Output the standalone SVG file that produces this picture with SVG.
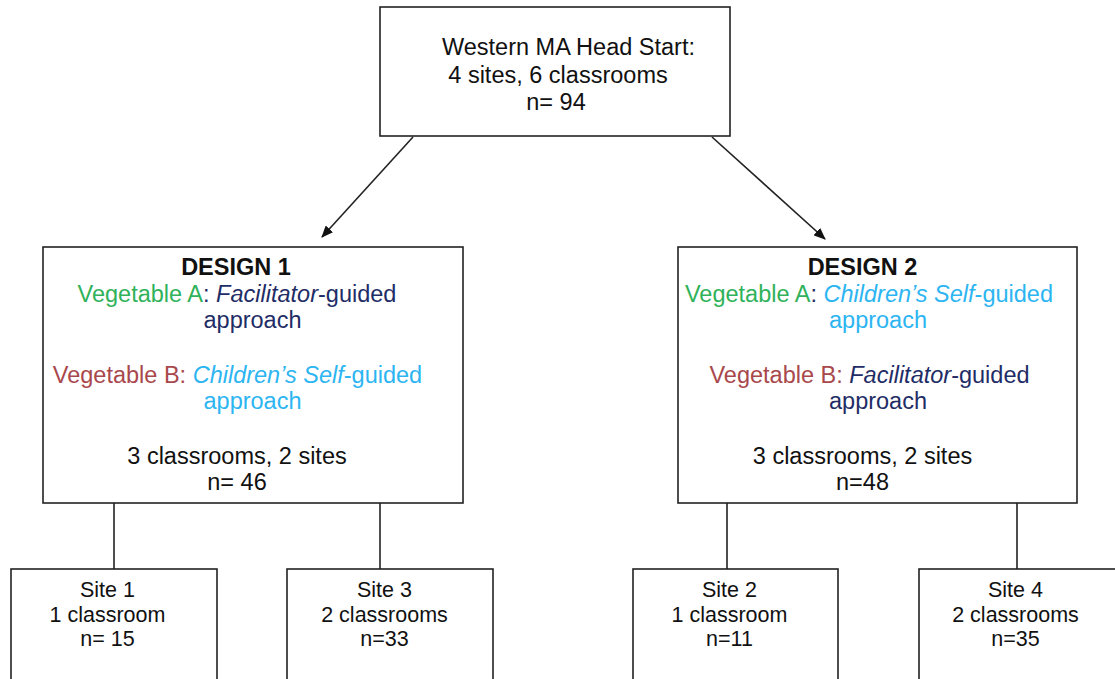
<svg xmlns="http://www.w3.org/2000/svg" width="1115" height="679" viewBox="0 0 1115 679">
<defs>
<marker id="arr" markerWidth="12" markerHeight="10" refX="11" refY="5" orient="auto" markerUnits="userSpaceOnUse">
<path d="M0,0 L12,5 L0,10 Z" fill="#111"/>
</marker>
<style>
.box{fill:#fff;stroke:#222;stroke-width:1.6}
.t{font-family:"Liberation Sans",Arial,sans-serif;font-size:23.5px;fill:#111;text-anchor:middle}
.s{font-family:"Liberation Sans",Arial,sans-serif;font-size:21.5px;fill:#111;text-anchor:middle}
.b{font-weight:bold}
.g{fill:#2fb25a}
.r{fill:#a9484c}
.n{fill:#1f2d66}
.c{fill:#2db5f2}
.i{font-style:italic}
.ln{stroke:#222;stroke-width:1.6;fill:none}
</style>
</defs>
<g id="connectors">
<line class="ln" x1="413" y1="137" x2="322" y2="237" marker-end="url(#arr)"/>
<line class="ln" x1="712" y1="137" x2="825" y2="239" marker-end="url(#arr)"/>
<line class="ln" x1="114" y1="503" x2="114" y2="569"/>
<line class="ln" x1="380" y1="503" x2="380" y2="569"/>
<line class="ln" x1="727" y1="503" x2="727" y2="569"/>
<line class="ln" x1="1017" y1="503" x2="1017" y2="569"/>
</g>
<g id="top">
<rect class="box" x="380" y="7" width="350" height="129"/>
<text class="t" x="568.5" y="55">Western MA Head Start:</text>
<text class="t" x="558" y="83">4 sites, 6 classrooms</text>
<text class="t" x="556" y="110">n= 94</text>
</g>
<g id="design1">
<rect class="box" x="43" y="247" width="420" height="256"/>
<text class="t b" x="236" y="275">DESIGN 1</text>
<text class="t" x="237" y="302"><tspan class="g">Vegetable A</tspan><tspan class="n">: </tspan><tspan class="n i">Facilitator</tspan><tspan class="n">-guided</tspan></text>
<text class="t n" x="252.5" y="328">approach</text>
<text class="t" x="237.5" y="383"><tspan class="r">Vegetable B: </tspan><tspan class="c i">Children’s Self</tspan><tspan class="c">-guided</tspan></text>
<text class="t c" x="252.5" y="409">approach</text>
<text class="t" x="237" y="464">3 classrooms, 2 sites</text>
<text class="t" x="237" y="490">n= 46</text>
</g>
<g id="design2">
<rect class="box" x="678" y="247" width="399" height="256"/>
<text class="t b" x="862.5" y="275">DESIGN 2</text>
<text class="t" x="869" y="302"><tspan class="g">Vegetable A</tspan><tspan class="n">: </tspan><tspan class="c i">Children’s Self</tspan><tspan class="c">-guided</tspan></text>
<text class="t c" x="878" y="328">approach</text>
<text class="t" x="869.5" y="383"><tspan class="r">Vegetable B: </tspan><tspan class="n i">Facilitator</tspan><tspan class="n">-guided</tspan></text>
<text class="t n" x="878" y="409">approach</text>
<text class="t" x="862.5" y="464">3 classrooms, 2 sites</text>
<text class="t" x="862.5" y="490">n=48</text>
</g>
<g id="site1">
<rect class="box" x="11" y="569" width="206" height="130"/>
<text class="s" x="107.5" y="597">Site 1</text>
<text class="s" x="107.5" y="622">1 classroom</text>
<text class="s" x="107.5" y="646">n= 15</text>
</g>
<g id="site3">
<rect class="box" x="287" y="569" width="206" height="130"/>
<text class="s" x="384.5" y="597">Site 3</text>
<text class="s" x="384.5" y="622">2 classrooms</text>
<text class="s" x="384.5" y="646">n=33</text>
</g>
<g id="site2">
<rect class="box" x="633" y="569" width="205" height="130"/>
<text class="s" x="729.5" y="597">Site 2</text>
<text class="s" x="729.5" y="622">1 classroom</text>
<text class="s" x="729.5" y="646">n=11</text>
</g>
<g id="site4">
<rect class="box" x="919" y="569" width="220" height="130"/>
<text class="s" x="1015.5" y="597">Site 4</text>
<text class="s" x="1015.5" y="622">2 classrooms</text>
<text class="s" x="1015.5" y="646">n=35</text>
</g>
</svg>
